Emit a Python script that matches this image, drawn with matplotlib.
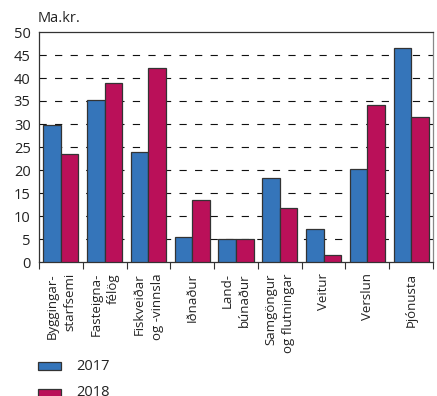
import matplotlib
matplotlib.use("Agg")
import matplotlib.pyplot as plt
import numpy as np
from matplotlib.patches import Rectangle

plt.rcParams['font.family'] = ['Open Sans', 'DejaVu Sans']

categories = ["Byggingar-\nstarfsemi", "Fasteigna-\nfélög", "Fiskveiðar\nog -vinnsla",
              "Iðnaður", "Land-\nbúnaður", "Samgöngur\nog flutningar", "Veitur",
              "Verslun", "Þjónusta"]
values_2017 = [29.8, 35.2, 23.9, 5.4, 4.9, 18.3, 7.2, 20.2, 46.6]
values_2018 = [23.4, 39.0, 42.1, 13.5, 5.1, 11.7, 1.6, 34.1, 31.5]
series_labels = ["2017", "2018"]
yticks = [0, 5, 10, 15, 20, 25, 30, 35, 40, 45, 50]

c17 = "#3575BA"
c18 = "#BA1059"
edge = "#333333"

fig = plt.figure(figsize=(4.37, 3.96), dpi=100)
ax = fig.add_axes([39/437, 1-262/396, (433-39)/437, (262-32)/396])

x = np.arange(len(categories))
w = 0.4
ax.bar(x - w/2, values_2017, w, color=c17, edgecolor=edge, linewidth=0.9, zorder=3)
ax.bar(x + w/2, values_2018, w, color=c18, edgecolor=edge, linewidth=0.9, zorder=3)

ax.set_xlim(-0.5, len(categories) - 0.5)
ax.set_ylim(0, 50)
ax.set_yticks(yticks)
ax.tick_params(axis='y', length=0, pad=6, labelsize=10.5, colors="#222222")

for yv in yticks[1:-1]:
    ax.axhline(yv, color="#111111", lw=0.8, linestyle=(0, (6.5, 7.5)), zorder=1)

# category boundaries as ticks, labels at centres
ax.set_xticks(np.arange(len(categories) + 1) - 0.5, minor=False)
ax.set_xticklabels([])
ax.tick_params(axis='x', which='major', direction='out', length=5, width=0.8, color="#333333")
ax.set_xticks(x, minor=True)
ax.set_xticklabels(categories, minor=True, rotation=90, fontsize=9.5,
                   va='top', ha='center', multialignment='right', linespacing=1.45,
                   color="#222222")
ax.tick_params(axis='x', which='minor', length=0, pad=8)

for s in ax.spines.values():
    s.set_color("#333333")
    s.set_linewidth(0.9)
ax.spines['right'].set_color("#888888")

fig.text(38/437, 1-19/396, "Ma.kr.", fontsize=10.5, ha='left', va='center', color="#222222")

# legend drawn in figure coordinates
for i, (lab, col) in enumerate(zip(series_labels, [c17, c18])):
    yc = 366 + i*26.5
    fig.patches.append(Rectangle((38/437, 1-(yc+4)/396), 23/437, 8/396,
                                 transform=fig.transFigure, facecolor=col,
                                 edgecolor=edge, linewidth=0.9))
    fig.text(76/437, 1-yc/396, lab, fontsize=10.5, ha='left', va='center', color="#222222")

fig.savefig("out.png", dpi=100)
